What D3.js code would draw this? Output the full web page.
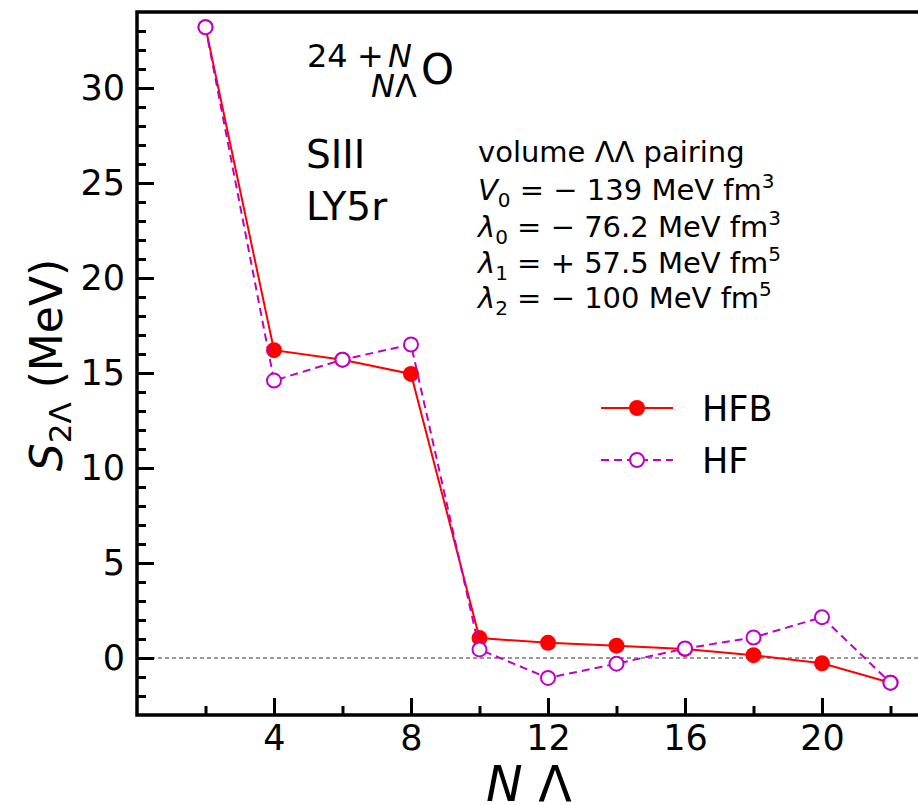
<!DOCTYPE html>
<html>
<head>
<meta charset="utf-8">
<style>
  body { margin: 0; background: #fff; }
  text { font-family: "DejaVu Sans", sans-serif; fill: #000; }
</style>
</head>
<body>
<svg id="container" width="918" height="805"></svg>
<script src="https://cdn.jsdelivr.net/npm/d3@7"></script>
<script>
// data
let nLambda = [2, 4, 6, 8, 10, 12, 14, 16, 18, 20, 22]
let hfb = [33.2, 16.2, 15.7, 14.95, 1.05, 0.8, 0.65, 0.48, 0.15, -0.28, -1.3]
let hf = [33.2, 14.6, 15.7, 16.5, 0.45, -1.05, -0.3, 0.5, 1.08, 2.15, -1.3]
let xMajor = [4, 8, 12, 16, 20]
let xMinor = [2, 6, 10, 14, 18, 22]
let yMajor = [0, 5, 10, 15, 20, 25, 30]
let yMinor = d3.range(-2, 34).filter(v => v % 5 != 0)
let infoLines = [
  ["volume ΛΛ pairing"],
  ["V", "0", " = − 139 MeV fm", "3"],
  ["λ", "0", " = − 76.2 MeV fm", "3"],
  ["λ", "1", " = + 57.5 MeV fm", "5"],
  ["λ", "2", " = − 100 MeV fm", "5"]
]

let svg = d3.select("#container")
let plotLeft = 137, plotTop = 12, plotBottom = 715

let x = d3.scaleLinear().domain([0, 23]).range([plotLeft, plotLeft + 23 * 34.25])
let y = d3.scaleLinear().domain([-3, 34]).range([plotBottom, plotTop])

let red = "#ff0000", mag = "#c000c8"

// zero line
svg.append("line")
  .attr("x1", x(0)).attr("x2", x(23))
  .attr("y1", y(0)).attr("y2", y(0))
  .attr("stroke", "#333").attr("stroke-width", 1)
  .attr("stroke-dasharray", "4,3")

// axes
let yAxis = svg.append("g").attr("transform", `translate(${plotLeft},0)`)
  .call(d3.axisLeft(y).tickValues(yMajor).tickSize(-17).tickPadding(12))
yAxis.append("g").call(d3.axisLeft(y).tickValues(yMinor).tickSize(-9).tickFormat(""))
let xAxis = svg.append("g").attr("transform", `translate(0,${plotBottom})`)
  .call(d3.axisBottom(x).tickValues(xMajor).tickSize(-17).tickPadding(10))
xAxis.append("g").call(d3.axisBottom(x).tickValues(xMinor).tickSize(-9).tickFormat(""))

svg.selectAll(".domain").remove()
svg.selectAll(".tick line").attr("stroke", "#000").attr("stroke-width", 3)
svg.selectAll(".tick text").style("font-size", "35px").style("font-family", "DejaVu Sans")

// frame
svg.append("path")
  .attr("d", `M${x(23)},${plotTop} H${plotLeft} V${plotBottom} H${x(23)}`)
  .attr("fill", "none").attr("stroke", "#000").attr("stroke-width", 3.5)

// lines
let line = d3.line().x((d, i) => x(nLambda[i])).y(d => y(d))

svg.append("path").datum(hfb)
  .attr("d", line).attr("fill", "none")
  .attr("stroke", red).attr("stroke-width", 2)
svg.append("g").selectAll("circle").data(hfb).enter().append("circle")
  .attr("cx", (d, i) => x(nLambda[i])).attr("cy", d => y(d))
  .attr("r", 8).attr("fill", red)

svg.append("path").datum(hf)
  .attr("d", line).attr("fill", "none")
  .attr("stroke", mag).attr("stroke-width", 2)
  .attr("stroke-dasharray", "8,5")
svg.append("g").selectAll("circle").data(hf).enter().append("circle")
  .attr("cx", (d, i) => x(nLambda[i])).attr("cy", d => y(d))
  .attr("r", 7).attr("fill", "#fff").attr("stroke", mag).attr("stroke-width", 2)

// legend
let leg = svg.append("g")
leg.append("line").attr("x1", 601).attr("x2", 673).attr("y1", 408).attr("y2", 408)
  .attr("stroke", red).attr("stroke-width", 2)
leg.append("circle").attr("cx", 637).attr("cy", 408).attr("r", 8).attr("fill", red)
leg.append("text").attr("x", 702).attr("y", 421).style("font-size", "35px").text("HFB")
leg.append("line").attr("x1", 601).attr("x2", 673).attr("y1", 460).attr("y2", 460)
  .attr("stroke", mag).attr("stroke-width", 2).attr("stroke-dasharray", "8,5")
leg.append("circle").attr("cx", 637).attr("cy", 460).attr("r", 7)
  .attr("fill", "#fff").attr("stroke", mag).attr("stroke-width", 2)
leg.append("text").attr("x", 702).attr("y", 473).style("font-size", "35px").text("HF")

// nucleus label  ^{24+N}_{NΛ}O
svg.append("text").attr("x", 307).attr("y", 67).style("font-size", "32px").text("24")
svg.append("text").attr("x", 357).attr("y", 67).style("font-size", "32px").text("+")
svg.append("text").attr("x", 388).attr("y", 67).style("font-size", "32px")
  .attr("font-style", "italic").text("N")
svg.append("text").attr("x", 371).attr("y", 97).style("font-size", "32px")
  .html('<tspan font-style="italic">N</tspan>Λ')
svg.append("text").attr("x", 421).attr("y", 84).style("font-size", "42px").text("O")

svg.append("text").attr("x", 306).attr("y", 168).style("font-size", "39px").text("SIII")
svg.append("text").attr("x", 306).attr("y", 220).style("font-size", "39px").text("LY5r")

// pairing parameters
let baselines = [162, 200, 237, 273, 308]
infoLines.forEach((parts, i) => {
  let t = svg.append("text").attr("x", 478).attr("y", baselines[i]).style("font-size", "29px")
  if (parts.length == 1) { t.text(parts[0]); return }
  t.append("tspan").attr("font-style", "italic").text(parts[0])
  t.append("tspan").attr("dy", 7).style("font-size", "20px").text(parts[1])
  t.append("tspan").attr("dy", -7).text(parts[2])
  t.append("tspan").attr("dy", -12).style("font-size", "20px").text(parts[3])
})

// axis titles
let yl = svg.append("text").attr("transform", "translate(62,365) rotate(-90)")
  .attr("text-anchor", "middle").style("font-size", "44px")
yl.append("tspan").attr("font-style", "italic").text("S")
yl.append("tspan").attr("dy", 9).style("font-size", "31px").text("2Λ")
yl.append("tspan").attr("dy", -9).text(" (MeV)")

let xl = svg.append("text").attr("x", 529).attr("y", 801)
  .attr("text-anchor", "middle").style("font-size", "49px")
xl.append("tspan").attr("font-style", "italic").text("N")
xl.append("tspan").text(" Λ")
</script>
</body>
</html>
